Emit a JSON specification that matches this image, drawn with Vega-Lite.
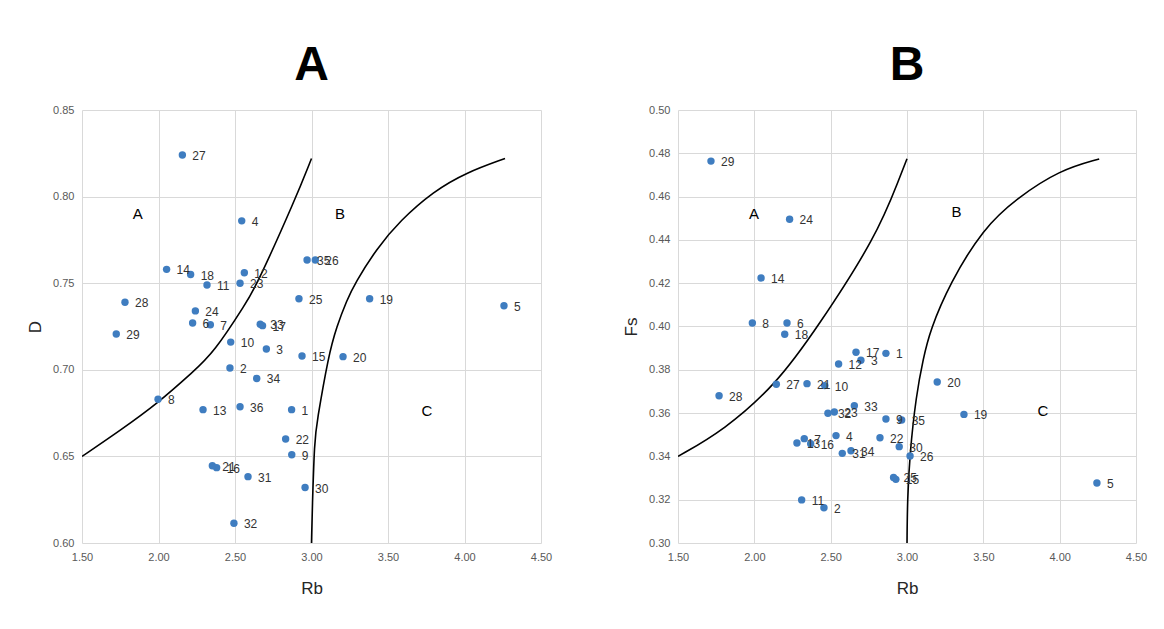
{
  "$schema": "https://vega.github.io/schema/vega-lite/v6.json",
  "padding": {"left": 26, "top": 42, "right": 5, "bottom": 5},
  "background": "white",
  "spacing": 70,
  "datasets": {
    "pointsA": [
      {"id": "1", "Rb": 2.87, "D": 0.677},
      {"id": "2", "Rb": 2.467, "D": 0.701},
      {"id": "3", "Rb": 2.705, "D": 0.712},
      {"id": "4", "Rb": 2.544, "D": 0.786},
      {"id": "5", "Rb": 4.258, "D": 0.737},
      {"id": "6", "Rb": 2.223, "D": 0.727},
      {"id": "7", "Rb": 2.339, "D": 0.726},
      {"id": "8", "Rb": 1.997, "D": 0.683},
      {"id": "9", "Rb": 2.871, "D": 0.651},
      {"id": "10", "Rb": 2.472, "D": 0.716},
      {"id": "11", "Rb": 2.317, "D": 0.749},
      {"id": "12", "Rb": 2.561, "D": 0.756},
      {"id": "13", "Rb": 2.291, "D": 0.677},
      {"id": "14", "Rb": 2.053, "D": 0.758},
      {"id": "15", "Rb": 2.938, "D": 0.708},
      {"id": "16", "Rb": 2.38, "D": 0.6435},
      {"id": "17", "Rb": 2.68, "D": 0.7255},
      {"id": "18", "Rb": 2.21, "D": 0.755},
      {"id": "19", "Rb": 3.38, "D": 0.741},
      {"id": "20", "Rb": 3.206, "D": 0.7076},
      {"id": "21", "Rb": 2.352, "D": 0.6446},
      {"id": "22", "Rb": 2.831, "D": 0.66},
      {"id": "23", "Rb": 2.533, "D": 0.75},
      {"id": "24", "Rb": 2.241, "D": 0.734},
      {"id": "25", "Rb": 2.918, "D": 0.741},
      {"id": "26", "Rb": 3.025, "D": 0.7634},
      {"id": "27", "Rb": 2.156, "D": 0.824},
      {"id": "28", "Rb": 1.781, "D": 0.739},
      {"id": "29", "Rb": 1.724, "D": 0.7207},
      {"id": "30", "Rb": 2.958, "D": 0.632},
      {"id": "31", "Rb": 2.585, "D": 0.6383},
      {"id": "32", "Rb": 2.493, "D": 0.6114},
      {"id": "33", "Rb": 2.665, "D": 0.7263},
      {"id": "34", "Rb": 2.642, "D": 0.695},
      {"id": "35", "Rb": 2.971, "D": 0.7634},
      {"id": "36", "Rb": 2.533, "D": 0.6787}
    ],
    "pointsB": [
      {"id": "1", "Rb": 2.862, "Fs": 0.3876},
      {"id": "2", "Rb": 2.456, "Fs": 0.3163},
      {"id": "3", "Rb": 2.698, "Fs": 0.3844},
      {"id": "4", "Rb": 2.535, "Fs": 0.3496},
      {"id": "5", "Rb": 4.244, "Fs": 0.3277},
      {"id": "6", "Rb": 2.214, "Fs": 0.4016},
      {"id": "7", "Rb": 2.327, "Fs": 0.3482},
      {"id": "8", "Rb": 1.987, "Fs": 0.4016},
      {"id": "9", "Rb": 2.862, "Fs": 0.3573},
      {"id": "10", "Rb": 2.461, "Fs": 0.3727},
      {"id": "11", "Rb": 2.31, "Fs": 0.3199},
      {"id": "12", "Rb": 2.552, "Fs": 0.3827},
      {"id": "13", "Rb": 2.279, "Fs": 0.3462},
      {"id": "14", "Rb": 2.044, "Fs": 0.4224},
      {"id": "15", "Rb": 2.927, "Fs": 0.3294},
      {"id": "16", "Rb": 2.369, "Fs": 0.3459},
      {"id": "17", "Rb": 2.666, "Fs": 0.3881},
      {"id": "18", "Rb": 2.199, "Fs": 0.3964},
      {"id": "19", "Rb": 3.373, "Fs": 0.3594},
      {"id": "20", "Rb": 3.198, "Fs": 0.3744},
      {"id": "21", "Rb": 2.345, "Fs": 0.3736},
      {"id": "22", "Rb": 2.823, "Fs": 0.3486},
      {"id": "23", "Rb": 2.524, "Fs": 0.3605},
      {"id": "24", "Rb": 2.231, "Fs": 0.4495},
      {"id": "25", "Rb": 2.912, "Fs": 0.3303},
      {"id": "26", "Rb": 3.02, "Fs": 0.3402},
      {"id": "27", "Rb": 2.144, "Fs": 0.3733},
      {"id": "28", "Rb": 1.769, "Fs": 0.368},
      {"id": "29", "Rb": 1.716, "Fs": 0.4764},
      {"id": "30", "Rb": 2.949, "Fs": 0.3445},
      {"id": "31", "Rb": 2.576, "Fs": 0.3414},
      {"id": "32", "Rb": 2.482, "Fs": 0.3599},
      {"id": "33", "Rb": 2.655, "Fs": 0.3634},
      {"id": "34", "Rb": 2.633, "Fs": 0.3426},
      {"id": "35", "Rb": 2.965, "Fs": 0.3568}
    ],
    "curvesA": [
      {"curve": "1", "Rb": 1.5, "D": 0.65},
      {"curve": "1", "Rb": 1.75, "D": 0.665},
      {"curve": "1", "Rb": 2.0, "D": 0.681},
      {"curve": "1", "Rb": 2.228, "D": 0.699},
      {"curve": "1", "Rb": 2.358, "D": 0.7095},
      {"curve": "1", "Rb": 2.576, "D": 0.739},
      {"curve": "1", "Rb": 2.642, "D": 0.749},
      {"curve": "1", "Rb": 2.892, "D": 0.798},
      {"curve": "1", "Rb": 3.0, "D": 0.822},
      {"curve": "2", "Rb": 3.0, "D": 0.6},
      {"curve": "2", "Rb": 3.005, "D": 0.62},
      {"curve": "2", "Rb": 3.02, "D": 0.6595},
      {"curve": "2", "Rb": 3.034, "D": 0.669},
      {"curve": "2", "Rb": 3.11, "D": 0.708},
      {"curve": "2", "Rb": 3.165, "D": 0.725},
      {"curve": "2", "Rb": 3.23, "D": 0.74},
      {"curve": "2", "Rb": 3.284, "D": 0.75},
      {"curve": "2", "Rb": 3.426, "D": 0.77},
      {"curve": "2", "Rb": 3.578, "D": 0.786},
      {"curve": "2", "Rb": 3.796, "D": 0.803},
      {"curve": "2", "Rb": 4.014, "D": 0.814},
      {"curve": "2", "Rb": 4.265, "D": 0.822}
    ],
    "curvesB": [
      {"curve": "1", "Rb": 1.5, "Fs": 0.34},
      {"curve": "1", "Rb": 1.8, "Fs": 0.352},
      {"curve": "1", "Rb": 2.144, "Fs": 0.3733},
      {"curve": "1", "Rb": 2.41, "Fs": 0.3992},
      {"curve": "1", "Rb": 2.8, "Fs": 0.4415},
      {"curve": "1", "Rb": 2.954, "Fs": 0.4692},
      {"curve": "1", "Rb": 3.0, "Fs": 0.4775},
      {"curve": "2", "Rb": 3.0, "Fs": 0.3},
      {"curve": "2", "Rb": 3.003, "Fs": 0.32},
      {"curve": "2", "Rb": 3.017, "Fs": 0.3402},
      {"curve": "2", "Rb": 3.06, "Fs": 0.3684},
      {"curve": "2", "Rb": 3.107, "Fs": 0.3853},
      {"curve": "2", "Rb": 3.15, "Fs": 0.398},
      {"curve": "2", "Rb": 3.281, "Fs": 0.42},
      {"curve": "2", "Rb": 3.5, "Fs": 0.4454},
      {"curve": "2", "Rb": 3.718, "Fs": 0.4592},
      {"curve": "2", "Rb": 4.0, "Fs": 0.4723},
      {"curve": "2", "Rb": 4.259, "Fs": 0.4774}
    ],
    "regionsA": [
      {"label": "A", "Rb": 1.864, "D": 0.79},
      {"label": "B", "Rb": 3.186, "D": 0.79},
      {"label": "C", "Rb": 3.755, "D": 0.676}
    ],
    "regionsB": [
      {"label": "A", "Rb": 1.998, "Fs": 0.452},
      {"label": "B", "Rb": 3.325, "Fs": 0.4527},
      {"label": "C", "Rb": 3.89, "Fs": 0.361}
    ]
  },
  "hconcat": [
    {
      "width": 459,
      "height": 433,
      "title": {"text": "A"},
      "encoding": {
        "x": {"field": "Rb", "type": "quantitative", "title": "Rb",
              "scale": {"domain": [1.5, 4.5], "nice": false, "zero": false},
              "axis": {"values": [1.5, 2.0, 2.5, 3.0, 3.5, 4.0, 4.5], "format": ".2f"}},
        "y": {"field": "D", "type": "quantitative", "title": "D",
              "scale": {"domain": [0.6, 0.85], "nice": false, "zero": false},
              "axis": {"values": [0.6, 0.65, 0.7, 0.75, 0.8, 0.85], "format": ".2f"}}
      },
      "layer": [
        {"data": {"name": "curvesA"},
         "mark": {"type": "line", "color": "black", "strokeWidth": 1.6, "interpolate": "basis", "clip": true},
         "encoding": {"detail": {"field": "curve"}}},
        {"data": {"name": "pointsA"},
         "mark": {"type": "circle", "color": "#3F7DC0", "opacity": 1, "size": 55}},
        {"data": {"name": "pointsA"},
         "mark": {"type": "text", "align": "left", "baseline": "middle", "dx": 10, "dy": 1, "fontSize": 12, "color": "#333333", "font": "Liberation Sans Narrow, Liberation Sans, sans-serif"},
         "encoding": {"text": {"field": "id"}}},
        {"data": {"name": "regionsA"},
         "mark": {"type": "text", "align": "center", "baseline": "middle", "fontSize": 15, "color": "black", "font": "Liberation Sans Narrow, Liberation Sans, sans-serif"},
         "encoding": {"text": {"field": "label"}}}
      ]
    },
    {
      "width": 458,
      "height": 433,
      "title": {"text": "B"},
      "encoding": {
        "x": {"field": "Rb", "type": "quantitative", "title": "Rb",
              "scale": {"domain": [1.5, 4.5], "nice": false, "zero": false},
              "axis": {"values": [1.5, 2.0, 2.5, 3.0, 3.5, 4.0, 4.5], "format": ".2f"}},
        "y": {"field": "Fs", "type": "quantitative", "title": "Fs",
              "scale": {"domain": [0.3, 0.5], "nice": false, "zero": false},
              "axis": {"values": [0.3, 0.32, 0.34, 0.36, 0.38, 0.4, 0.42, 0.44, 0.46, 0.48, 0.5], "format": ".2f"}}
      },
      "layer": [
        {"data": {"name": "curvesB"},
         "mark": {"type": "line", "color": "black", "strokeWidth": 1.6, "interpolate": "basis", "clip": true},
         "encoding": {"detail": {"field": "curve"}}},
        {"data": {"name": "pointsB"},
         "mark": {"type": "circle", "color": "#3F7DC0", "opacity": 1, "size": 55}},
        {"data": {"name": "pointsB"},
         "mark": {"type": "text", "align": "left", "baseline": "middle", "dx": 10, "dy": 1, "fontSize": 12, "color": "#333333", "font": "Liberation Sans Narrow, Liberation Sans, sans-serif"},
         "encoding": {"text": {"field": "id"}}},
        {"data": {"name": "regionsB"},
         "mark": {"type": "text", "align": "center", "baseline": "middle", "fontSize": 15, "color": "black", "font": "Liberation Sans Narrow, Liberation Sans, sans-serif"},
         "encoding": {"text": {"field": "label"}}}
      ]
    }
  ],
  "config": {
    "view": {"stroke": null},
    "title": {"fontSize": 48, "fontWeight": "bold", "font": "Liberation Sans Narrow, Liberation Sans, sans-serif", "color": "black", "anchor": "middle", "offset": 14},
    "axis": {
      "domain": false,
      "ticks": false,
      "grid": true,
      "gridColor": "#d9d9d9",
      "gridWidth": 1,
      "labelColor": "#595959",
      "labelFontSize": 11,
      "labelFont": "Liberation Sans Narrow, Liberation Sans, sans-serif",
      "labelPadding": 8,
      "labelFlush": false,
      "titleFont": "Liberation Sans Narrow, Liberation Sans, sans-serif",
      "titleFontSize": 17,
      "titleFontWeight": "normal",
      "titleColor": "#262626"
    },
    "axisX": {"titlePadding": 18},
    "axisY": {"titlePadding": 8}
  }
}
